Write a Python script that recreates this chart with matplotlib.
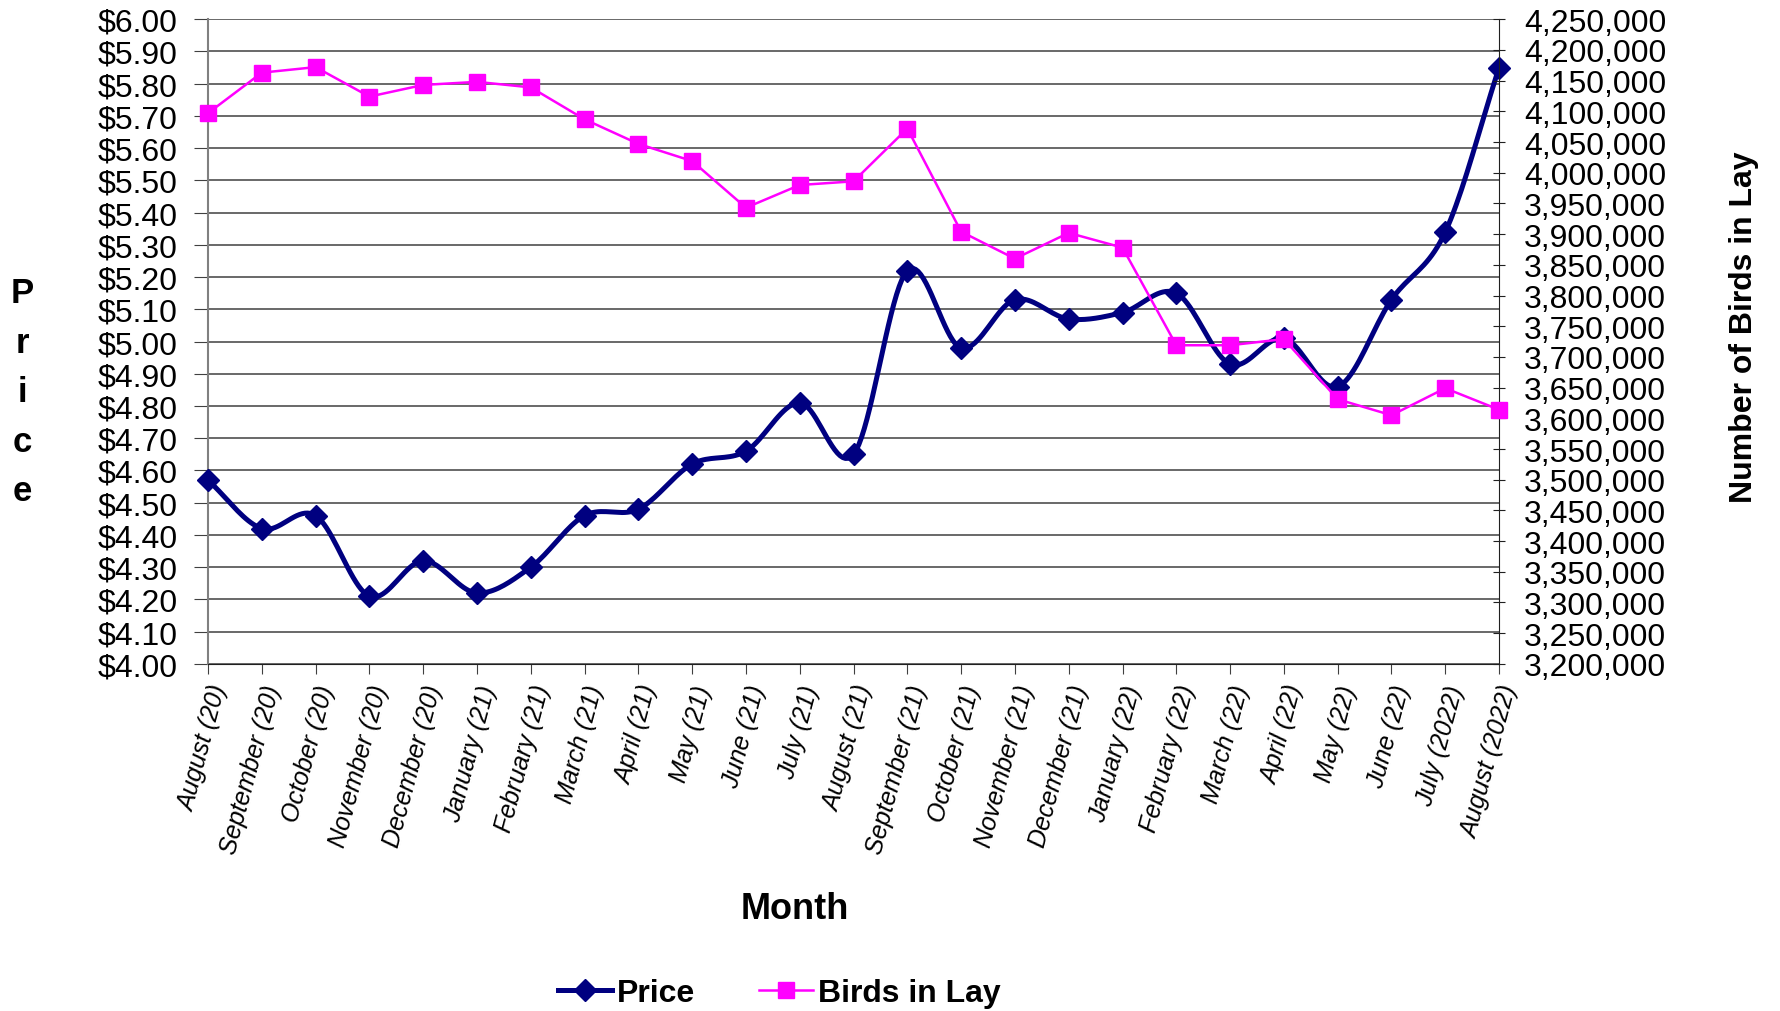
import numpy as np
import matplotlib
matplotlib.use("Agg")
import matplotlib.pyplot as plt
from matplotlib.ticker import FuncFormatter, MultipleLocator

plt.rcParams['font.family'] = ['Liberation Sans', 'DejaVu Sans']

months = ["August (20)", "September (20)", "October (20)", "November (20)",
          "December (20)", "January (21)", "February (21)", "March (21)",
          "April (21)", "May (21)", "June (21)", "July (21)", "August (21)",
          "September (21)", "October (21)", "November (21)", "December (21)",
          "January (22)", "February (22)", "March (22)", "April (22)",
          "May (22)", "June (22)", "July (2022)", "August (2022)"]

price = [4.57, 4.42, 4.46, 4.21, 4.32, 4.22, 4.30, 4.46, 4.48, 4.62, 4.66,
         4.81, 4.65, 5.22, 4.98, 5.13, 5.07, 5.09, 5.15, 4.93, 5.01, 4.86,
         5.13, 5.34, 5.85]

birds = [4097000, 4163000, 4172000, 4124000, 4143000, 4148000, 4139000,
         4087000, 4047000, 4019000, 3943000, 3980000, 3986000, 4072000,
         3904000, 3860000, 3902000, 3878000, 3719000, 3719000, 3729000,
         3631000, 3605000, 3649000, 3614000]


def smooth(x, y, n=20):
    # Catmull-Rom curve through the points (like Excel's smoothed line)
    x = np.asarray(x, float)
    y = np.asarray(y, float)
    px = np.concatenate([[2 * x[0] - x[1]], x, [2 * x[-1] - x[-2]]])
    py = np.concatenate([[2 * y[0] - y[1]], y, [2 * y[-1] - y[-2]]])
    xs, ys = [], []
    t = np.linspace(0, 1, n, endpoint=False)
    for i in range(1, len(px) - 2):
        for arr, out in ((px, xs), (py, ys)):
            p0, p1, p2, p3 = arr[i - 1], arr[i], arr[i + 1], arr[i + 2]
            out.extend(0.5 * (2 * p1 + (-p0 + p2) * t
                              + (2 * p0 - 5 * p1 + 4 * p2 - p3) * t ** 2
                              + (-p0 + 3 * p1 - 3 * p2 + p3) * t ** 3))
    xs.append(x[-1])
    ys.append(y[-1])
    return np.array(xs), np.array(ys)


fig = plt.figure(figsize=(17.81, 10.12), dpi=100)
ax = fig.add_axes([0.1168, 0.343, 0.7249, 0.637])
x = np.arange(len(months))

navy = '#000080'
magenta = '#FF00FF'

sx, sy = smooth(x, price)
ax.plot(sx, sy, color=navy, lw=3.6, solid_capstyle='round', zorder=3,
        clip_on=False)
ax.plot(x, price, ls='none', marker='D', ms=11, color=navy, zorder=4,
        clip_on=False)

ax.set_xlim(0, len(months) - 1)
ax.set_ylim(4.0, 6.0)
ax.yaxis.set_major_locator(MultipleLocator(0.1))
ax.yaxis.set_major_formatter(FuncFormatter(lambda v, p: f"${v:.2f}"))
ax.grid(axis='y', color='#404040', lw=1.1)
ax.set_axisbelow(True)
ax.set_xticks(x)
ax.set_xticklabels(months, rotation=75, ha='right', rotation_mode='anchor',
                   fontsize=18, style='italic')
ax.tick_params(axis='y', labelsize=23, length=10, pad=12, color='#404040')
ax.tick_params(axis='x', length=7, pad=6, color='#404040')
ax.spines['top'].set_visible(False)
ax.spines['right'].set_visible(False)
ax.spines['left'].set_color('#808080')
ax.spines['left'].set_linewidth(1.5)
ax.spines['bottom'].set_color('#202020')

ax2 = ax.twinx()
ax2.plot(x, birds, color=magenta, lw=1.8, marker='s', ms=11, zorder=5,
         clip_on=False)
ax2.set_ylim(3200000, 4250000)
ax2.yaxis.set_major_locator(MultipleLocator(50000))
ax2.yaxis.set_major_formatter(FuncFormatter(lambda v, p: f"{int(round(v)):,}"))
ax2.tick_params(axis='y', labelsize=23, length=8, direction='inout', pad=14,
                color='#202020')
for s in ['top', 'left', 'bottom']:
    ax2.spines[s].set_visible(False)
ax2.spines['right'].set_color('#202020')

fig.text(0.0124, 0.612, "P\nr\ni\nc\ne", ha='center', va='center',
         fontsize=25, fontweight='bold', linespacing=1.63)
fig.text(0.446, 0.101, "Month", ha='center', va='center',
         fontsize=26, fontweight='bold')
fig.text(0.979, 0.677, "Number of Birds in Lay", ha='center', va='center',
         rotation=90, fontsize=23, fontweight='bold')

h1 = plt.Line2D([], [], color=navy, lw=3.6, marker='D', ms=11)
h2 = plt.Line2D([], [], color=magenta, lw=1.8, marker='s', ms=11)
fig.legend([h1, h2], ["Price", "Birds in Lay"], loc='center',
           bbox_to_anchor=(0.4375, 0.018), ncol=2, frameon=False,
           prop={'weight': 'bold', 'size': 23}, handlelength=1.7,
           handletextpad=0.15, columnspacing=2.0)

fig.savefig("out.png", dpi=100)
